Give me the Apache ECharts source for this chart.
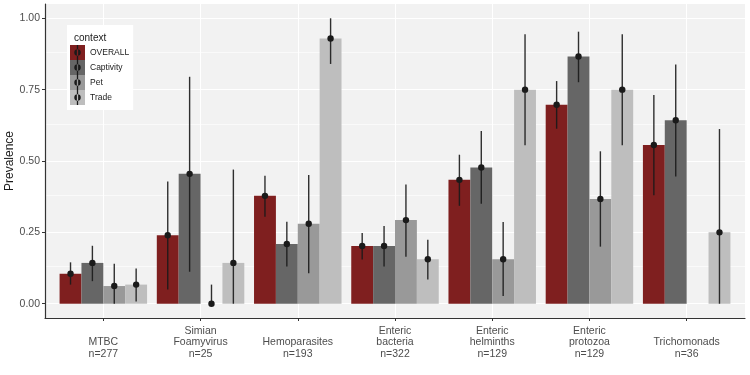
<!DOCTYPE html>
<html>
<head>
<meta charset="utf-8">
<script src="https://cdn.jsdelivr.net/npm/echarts@6/dist/echarts.min.js"></script>
<style>html,body{margin:0;padding:0;background:#fff}#c{width:750px;height:375px}</style>
</head>
<body>
<div id="c"></div>
<script>
const categories = ['MTBC\nn=277', 'Simian\nFoamyvirus\nn=25', 'Hemoparasites\nn=193', 'Enteric\nbacteria\nn=322', 'Enteric\nhelminths\nn=129', 'Enteric\nprotozoa\nn=129', 'Trichomonads\nn=36'];
const contexts = ['OVERALL', 'Captivity', 'Pet', 'Trade'];
const yTicks = [0, 0.25, 0.5, 0.75, 1];
const yMinor = [0.125, 0.375, 0.625, 0.875];

const overall    = [0.105, 0.240, 0.378, 0.202, 0.434, 0.697, 0.556];
const overallLo  = [0.067, 0.050, 0.305, 0.155, 0.343, 0.613, 0.380];
const overallHi  = [0.145, 0.428, 0.448, 0.248, 0.522, 0.780, 0.731];

const captivity   = [0.143, 0.455, 0.209, 0.202, 0.477, 0.866, 0.643];
const captivityLo = [0.079, 0.112, 0.130, 0.130, 0.350, 0.776, 0.446];
const captivityHi = [0.203, 0.795, 0.287, 0.272, 0.605, 0.953, 0.838];

const pet   = [0.062, 0.000, 0.280, 0.293, 0.156, 0.367, null];
const petLo = [0.000, 0.000, 0.107, 0.165, 0.027, 0.200, null];
const petHi = [0.140, 0.067, 0.451, 0.418, 0.286, 0.534, null];

const trade   = [0.067, 0.143, 0.929, 0.156, 0.750, 0.750, 0.250];
const tradeLo = [0.008, 0.000, 0.840, 0.085, 0.555, 0.555, 0.000];
const tradeHi = [0.123, 0.470, 1.000, 0.224, 0.944, 0.944, 0.612];

const colors = ['#7F1F1F', '#666666', '#999999', '#BEBEBE'];
const vals = [overall, captivity, pet, trade];
const los = [overallLo, captivityLo, petLo, tradeLo];
const his = [overallHi, captivityHi, petHi, tradeHi];

const chart = echarts.init(document.getElementById('c'), null, {renderer: 'canvas'});

// panel geometry (ggplot-like discrete expansion of 0.6 category on each side)
const P_LEFT = 45, P_RIGHT = 5, P_TOP = 4, P_BOTTOM = 57;
const band = (750 - P_LEFT - P_RIGHT) / (categories.length + 0.2);
const inner = 0.1 * band;

const hLines = [];
yTicks.forEach(v => hLines.push({yAxis: v, lineStyle: {width: 1.1}}));
yMinor.forEach(v => hLines.push({yAxis: v, lineStyle: {width: 0.6}}));
const vLines = categories.map((c, i) => ({xAxis: i, lineStyle: {width: 1.1}}));

const mk = (data) => ({
  silent: true, symbol: 'none', animation: false, z: 0,
  label: {show: false}, emphasis: {disabled: true},
  lineStyle: {color: '#FFFFFF', type: 'solid', width: 1},
  data: data
});

const series = [
  {type: 'line', name: '_h', data: [], xAxisIndex: 0, yAxisIndex: 0, z: 0, silent: true, markLine: mk(hLines)},
  {type: 'line', name: '_v', data: [], xAxisIndex: 1, yAxisIndex: 1, z: 0, silent: true, markLine: mk(vLines)}
];

contexts.forEach((name, k) => {
  series.push({
    type: 'bar', name: name, data: vals[k], z: 2,
    xAxisIndex: 1, yAxisIndex: 1,
    barGap: '0%', barCategoryGap: '10%',
    itemStyle: {color: colors[k]},
    emphasis: {disabled: true}
  });
});

contexts.forEach((name, k) => {
  const d = [];
  vals[k].forEach((v, i) => { if (v !== null) d.push([i, los[k][i], his[k][i], v]); });
  series.push({
    type: 'custom', name: name + ' ', z: 5,
    xAxisIndex: 1, yAxisIndex: 1,
    itemStyle: {color: '#1a1a1a'},
    encode: {x: 0, y: [1, 2, 3]},
    data: d,
    renderItem: function (params, api) {
      const bw = api.size([1, 0])[0];
      const off = (k - 1.5) * 0.225 * bw;
      const idx = api.value(0);
      const lo = api.coord([idx, api.value(1)]);
      const hi = api.coord([idx, api.value(2)]);
      const p = api.coord([idx, api.value(3)]);
      return {
        type: 'group',
        children: [
          {type: 'line', shape: {x1: lo[0] + off, y1: lo[1], x2: hi[0] + off, y2: hi[1]},
           style: {stroke: '#1a1a1a', lineWidth: 1.4, opacity: 0.9}},
          {type: 'circle', shape: {cx: p[0] + off, cy: p[1], r: 3.2},
           style: {fill: '#1a1a1a'}}
        ]
      };
    }
  });
});

const option = {
  animation: false,
  textStyle: {fontFamily: 'Liberation Sans, Arial, sans-serif'},
  title: {
    text: 'context', left: 69, top: 28,
    textStyle: {fontSize: 10, fontWeight: 'normal', color: '#1a1a1a', fontFamily: 'Liberation Sans, Arial, sans-serif'}
  },
  legend: [{
    orient: 'vertical', left: 67, top: 25, padding: [20, 4, 5, 3],
    backgroundColor: '#FFFFFF',
    itemWidth: 15, itemHeight: 15, itemGap: 0,
    icon: 'rect',
    data: contexts,
    selectedMode: false,
    textStyle: {fontSize: 8.5, color: '#1a1a1a'}
  }, {
    orient: 'vertical', left: 67, top: 25, padding: [20, 4, 5, 3],
    itemWidth: 15, itemHeight: 15, itemGap: 0,
    icon: 'path://M2.4,0h1.2v14h-1.2z M3,4a3,3 0 1,0 0.001,0z',
    data: contexts.map(n => n + ' '),
    selectedMode: false,
    formatter: function () { return ''; },
    textStyle: {fontSize: 6, color: 'rgba(0,0,0,0)'}
  }],
  grid: [
    {left: P_LEFT, right: P_RIGHT, top: P_TOP, bottom: P_BOTTOM, show: true, backgroundColor: '#F2F2F2',
     borderWidth: 0, containLabel: false, outerBoundsMode: 'none'},
    {left: P_LEFT + inner, right: P_RIGHT + inner, top: P_TOP, bottom: P_BOTTOM, show: false,
     containLabel: false, outerBoundsMode: 'none'}
  ],
  xAxis: [{
    type: 'value', gridIndex: 0, min: 0, max: 1,
    axisLine: {show: true, onZero: false, lineStyle: {color: '#333333', width: 1.2}},
    axisTick: {show: false}, axisLabel: {show: false}, splitLine: {show: false}
  }, {
    type: 'category', gridIndex: 1, data: categories,
    axisLine: {show: false, onZero: false},
    axisTick: {show: true, alignWithLabel: true, length: 3, lineStyle: {color: '#333333'}},
    axisLabel: {
      margin: 7, fontSize: 10.5, color: '#4D4D4D', lineHeight: 11.5,
      formatter: function (v) {
        const n = v.split('\n').length;
        return '\n'.repeat(3 - n) + v;
      }
    },
    splitLine: {show: false}
  }],
  yAxis: [{
    type: 'value', gridIndex: 0, min: -0.05, max: 1.05,
    name: 'Prevalence', nameLocation: 'middle', nameRotate: 90, nameGap: 29, nameMoveOverlap: false,
    nameTextStyle: {fontSize: 12, color: '#1a1a1a'},
    axisLine: {show: true, lineStyle: {color: '#333333', width: 1.2}},
    axisTick: {show: true, length: 3, customValues: yTicks, lineStyle: {color: '#333333'}},
    axisLabel: {customValues: yTicks, margin: 5, fontSize: 10.5, color: '#4D4D4D',
      formatter: function (v) { return v.toFixed(2); }},
    splitLine: {show: false}
  }, {
    type: 'value', gridIndex: 1, min: -0.05, max: 1.05, show: false
  }],
  series: series
};
chart.setOption(option);
</script>
</body>
</html>
